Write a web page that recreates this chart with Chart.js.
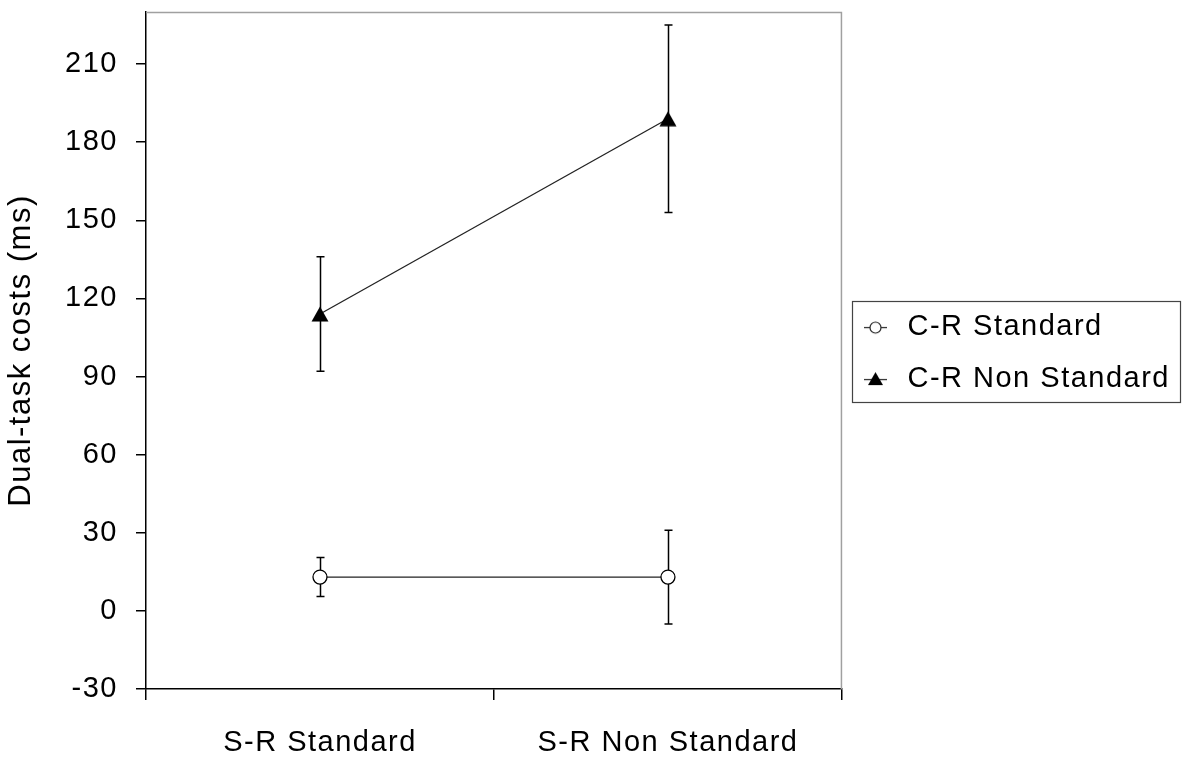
<!DOCTYPE html>
<html>
<head>
<meta charset="utf-8">
<script src="https://cdn.jsdelivr.net/npm/chart.js@4.4.1/dist/chart.umd.min.js"></script>
<style>
  html, body { margin: 0; padding: 0; background: #fff; }
  #wrap { width: 1182px; height: 758px; }
</style>
</head>
<body>
<div id="wrap"><canvas id="c" width="1182" height="758"></canvas></div>
<script>
// Condition means (ms) and their error-bar half widths
const categories = ['S-R Standard', 'S-R Non Standard'];
const seriesNames = ['C-R Standard', 'C-R Non Standard'];
const crStandard = [13, 13];
const crStandardErr = [7.5, 18];
const crNonStandard = [114, 189];
const crNonStandardErr = [22, 36];
const yTickValues = [-30, 0, 30, 60, 90, 120, 150, 180, 210];
const yMin = -30;
const yMax = 230;
const yTitle = 'Dual-task costs (ms)';

const FONT = "'Liberation Sans', Arial, Helvetica, sans-serif";
const INK = '#000';
const LINE = '#222';

Chart.defaults.font.family = FONT;
Chart.defaults.color = INK;

// Filled triangle marker, centred on its bounding box
function makeTriangle(w, h) {
  const c = document.createElement('canvas');
  c.width = w; c.height = h;
  const g = c.getContext('2d');
  g.fillStyle = INK;
  g.beginPath();
  g.moveTo(w / 2, 0.5);
  g.lineTo(w - 0.5, h - 0.5);
  g.lineTo(0.5, h - 0.5);
  g.closePath();
  g.fill();
  return c;
}

// Legend key: short line with the series marker on it
function makeLegendIcon(kind) {
  const c = document.createElement('canvas');
  c.width = 30; c.height = 20;
  const g = c.getContext('2d');
  g.strokeStyle = LINE;
  g.lineWidth = 1.2;
  g.beginPath(); g.moveTo(0, 10.5); g.lineTo(23, 10.5); g.stroke();
  if (kind === 'circle') {
    g.fillStyle = '#fff';
    g.beginPath(); g.arc(11.5, 10.5, 5.5, 0, Math.PI * 2); g.fill(); g.stroke();
  } else {
    g.fillStyle = INK;
    g.beginPath(); g.moveTo(11.5, 3); g.lineTo(19, 16); g.lineTo(4, 16); g.closePath(); g.fill();
  }
  return c;
}

const triangleMarker = makeTriangle(18, 16);
const legendIcons = [makeLegendIcon('circle'), makeLegendIcon('triangle')];

// Slightly wider text run, like the original screen font
const textSpacing = {
  id: 'textSpacing',
  beforeUpdate(chart) { chart.ctx.letterSpacing = '1.5px'; },
  beforeDraw(chart) { chart.ctx.letterSpacing = '1.5px'; }
};

// Vertical error bars with short caps, drawn under the markers
const errorBars = {
  id: 'errorBars',
  beforeDatasetsDraw(chart) {
    const { ctx, scales: { y } } = chart;
    ctx.save();
    ctx.strokeStyle = INK;
    ctx.lineWidth = 1.5;
    chart.data.datasets.forEach((ds, i) => {
      const meta = chart.getDatasetMeta(i);
      ds.errors.forEach((e, j) => {
        const px = Math.round(meta.data[j].x) + 0.5;
        const top = y.getPixelForValue(ds.data[j] + e);
        const bot = y.getPixelForValue(ds.data[j] - e);
        ctx.beginPath();
        ctx.moveTo(px, top); ctx.lineTo(px, bot);
        ctx.moveTo(px - 4, top); ctx.lineTo(px + 4, top);
        ctx.moveTo(px - 4, bot); ctx.lineTo(px + 4, bot);
        ctx.stroke();
      });
    });
    ctx.restore();
  }
};

// Grey top/right frame of the plot area and the box round the legend
const frames = {
  id: 'frames',
  beforeDatasetsDraw(chart) {
    const { ctx, chartArea: a } = chart;
    ctx.save();
    ctx.strokeStyle = '#a0a0a0';
    ctx.lineWidth = 1.5;
    ctx.beginPath();
    ctx.moveTo(a.left, a.top + 0.5);
    ctx.lineTo(a.right - 0.5, a.top + 0.5);
    ctx.lineTo(a.right - 0.5, a.bottom);
    ctx.stroke();
    ctx.restore();
  },
  afterDraw(chart) {
    const boxes = chart.legend && chart.legend.legendHitBoxes;
    if (!boxes || !boxes.length) return;
    const ctx = chart.ctx;
    const left = Math.min(...boxes.map(b => b.left)) - 13;
    const right = Math.max(...boxes.map(b => b.left + b.width)) + 10;
    const top = boxes[0].top - 12;
    const last = boxes[boxes.length - 1];
    const bottom = last.top + last.height + 8;
    ctx.save();
    ctx.strokeStyle = '#444';
    ctx.lineWidth = 1.2;
    ctx.strokeRect(Math.round(left) + 0.5, Math.round(top) + 0.5,
                   Math.round(right - left), Math.round(bottom - top));
    ctx.restore();
  }
};

new Chart(document.getElementById('c'), {
  type: 'line',
  data: {
    labels: categories,
    datasets: [
      {
        label: seriesNames[0],
        data: crStandard,
        errors: crStandardErr,
        borderColor: LINE,
        borderWidth: 1.3,
        pointStyle: 'circle',
        pointRadius: 7,
        pointBorderWidth: 1.3,
        pointBorderColor: INK,
        pointBackgroundColor: '#fff',
        fill: false,
        tension: 0
      },
      {
        label: seriesNames[1],
        data: crNonStandard,
        errors: crNonStandardErr,
        borderColor: LINE,
        borderWidth: 1.3,
        pointStyle: triangleMarker,
        pointRadius: 9,
        fill: false,
        tension: 0
      }
    ]
  },
  options: {
    responsive: false,
    animation: false,
    devicePixelRatio: 1,
    layout: { padding: { top: 12, right: 2, bottom: 0, left: 0 } },
    plugins: {
      tooltip: { enabled: false },
      legend: {
        position: 'right',
        fullSize: false,
        maxWidth: 345,
        title: { display: true, text: '', font: { size: 1 }, padding: { top: 4, bottom: 0 } },
        labels: {
          usePointStyle: true,
          pointStyleWidth: 28,
          padding: 23,
          color: INK,
          font: { size: 29 },
          generateLabels(chart) {
            return chart.data.datasets.map((ds, i) => ({
              text: ds.label,
              datasetIndex: i,
              pointStyle: legendIcons[i],
              fillStyle: 'transparent',
              strokeStyle: 'transparent',
              lineWidth: 0,
              fontColor: INK
            }));
          }
        }
      }
    },
    scales: {
      x: {
        type: 'category',
        offset: true,
        grid: { offset: true, drawOnChartArea: false, drawTicks: true, tickLength: 11, color: INK, lineWidth: 1.5 },
        border: { color: INK, width: 1.5 },
        ticks: { color: INK, font: { size: 29 }, padding: 26, maxRotation: 0, autoSkip: false },
        afterFit(s) { s.height = 69; s.paddingLeft = 0; s.paddingRight = 0; }
      },
      y: {
        min: yMin,
        max: yMax,
        afterBuildTicks(s) { s.ticks = yTickValues.map(v => ({ value: v })); },
        grid: { drawOnChartArea: false, drawTicks: true, tickLength: 10, color: INK, lineWidth: 1.5 },
        border: { color: INK, width: 1.5 },
        ticks: { color: INK, font: { size: 29 }, padding: 18 },
        title: { display: true, text: yTitle, color: INK, font: { size: 31 }, padding: { top: 3, bottom: 0 } },
        afterFit(s) { s.width = 146; s.paddingTop = 0; s.paddingBottom = 0; }
      }
    }
  },
  plugins: [textSpacing, errorBars, frames]
});
</script>
</body>
</html>
